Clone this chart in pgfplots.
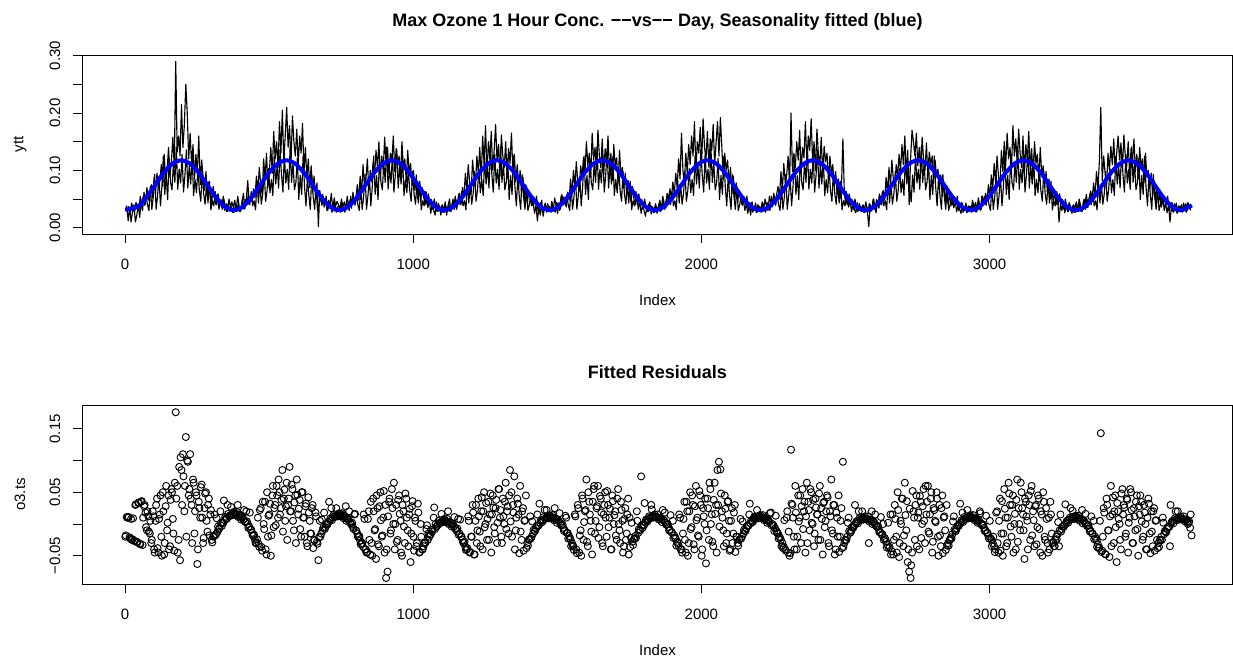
\documentclass[border=0pt]{standalone}
\usepackage{pgfplots}
\pgfplotsset{compat=1.18}
\usepackage{pgfplotstable}
\usepackage{fontspec}
\setmainfont{Liberation Sans}
\newcommand\fs{\fontsize{11.25}{13.5}\selectfont}
\newcommand\fst{\fontsize{13.5}{16}\selectfont\bfseries}
\pgfplotstableread{
t y r
1 0.030 -0.020
6 0.038 0.011
11 0.012 0.010
16 0.035 -0.021
21 0.010 0.008
26 0.028 -0.024
31 0.040 -0.026
36 0.010 0.030
41 0.022 -0.028
46 0.040 0.033
51 0.018 -0.031
56 0.045 0.035
61 0.030 -0.033
66 0.062 0.028
71 0.041 0.018
76 0.070 -0.010
81 0.048 0.012
86 0.058 -0.015
91 0.075 -0.030
96 0.052 0.020
101 0.088 -0.040
106 0.060 0.005
111 0.095 0.040
116 0.068 -0.045
121 0.082 0.015
126 0.110 -0.020
131 0.072 0.050
136 0.128 -0.048
141 0.085 0.028
146 0.098 -0.010
151 0.140 0.045
156 0.090 -0.035
161 0.115 0.055
166 0.158 0.008
171 0.105 -0.042
176 0.290 0.176
181 0.132 0.060
186 0.160 -0.025
191 0.125 -0.057
196 0.215 0.085
201 0.140 0.110
206 0.180 0.020
211 0.250 0.137
216 0.200 0.100
221 0.120 0.045
226 0.165 0.110
231 0.110 0.030
236 0.145 0.070
241 0.085 -0.015
246 0.128 0.050
251 0.095 -0.063
256 0.160 0.035
261 0.075 0.010
266 0.118 0.062
271 0.088 -0.030
276 0.065 0.025
281 0.098 0.050
286 0.052 -0.012
291 0.080 0.040
296 0.060 0.015
301 0.045 -0.025
306 0.072 -0.020
311 0.050 0.015
316 0.040 -0.016
321 0.058 -0.012
326 0.032 -0.008
331 0.048 0.020
336 0.035 -0.003
341 0.055 0.002
346 0.030 0.006
351 0.042 0.009
356 0.028 0.030
361 0.050 0.012
366 0.036 0.014
371 0.045 0.016
376 0.035 0.017
381 0.048 0.016
386 0.030 0.016
391 0.055 0.030
396 0.038 0.014
401 0.028 0.012
406 0.045 0.010
411 0.060 0.007
416 0.033 0.004
421 0.050 0.020
426 0.082 0.000
431 0.040 -0.004
436 0.056 -0.009
441 0.045 -0.014
446 0.068 -0.019
451 0.052 -0.025
456 0.090 -0.030
461 0.062 0.010
466 0.105 -0.036
471 0.075 0.025
476 0.058 -0.042
481 0.120 0.000
486 0.085 0.035
491 0.130 -0.048
496 0.070 -0.020
501 0.098 0.015
506 0.140 -0.050
511 0.095 0.045
516 0.168 -0.005
521 0.120 0.030
526 0.150 0.060
531 0.105 0.010
536 0.185 0.050
541 0.130 0.025
546 0.205 0.085
551 0.115 0.040
556 0.160 0.005
561 0.210 0.065
566 0.140 0.030
571 0.178 0.090
576 0.112 0.020
581 0.195 0.055
586 0.150 -0.010
591 0.125 0.045
596 0.172 0.070
601 0.108 0.015
606 0.160 0.038
611 0.130 -0.020
616 0.182 0.050
621 0.098 0.010
626 0.140 0.028
631 0.085 -0.030
636 0.120 0.042
641 0.070 0.005
646 0.108 -0.015
651 0.062 0.030
656 0.090 -0.025
661 0.055 0.018
666 0.078 -0.028
671 0.002 -0.057
676 0.065 0.005
681 0.045 -0.015
686 0.058 -0.010
691 0.036 0.018
696 0.050 -0.005
701 0.030 -0.001
706 0.048 0.003
711 0.040 0.006
716 0.060 0.025
721 0.032 0.010
726 0.052 0.012
731 0.038 0.013
736 0.046 0.014
741 0.040 0.015
746 0.032 0.014
751 0.050 0.015
756 0.036 0.013
761 0.045 0.011
766 0.030 0.028
771 0.055 0.008
776 0.038 0.006
781 0.048 0.003
786 0.034 -0.001
791 0.062 -0.005
796 0.042 0.015
801 0.050 -0.010
806 0.075 -0.015
811 0.048 -0.020
816 0.090 -0.026
821 0.060 -0.031
826 0.110 -0.036
831 0.070 0.008
836 0.085 -0.040
841 0.120 -0.044
846 0.065 0.020
851 0.100 -0.048
856 0.080 -0.030
861 0.115 0.040
866 0.090 -0.010
871 0.135 -0.055
876 0.105 0.025
881 0.150 -0.035
886 0.085 0.050
891 0.125 -0.020
896 0.100 0.010
901 0.158 -0.045
906 0.110 -0.085
911 0.140 -0.075
916 0.095 0.035
921 0.130 -0.015
926 0.115 0.055
931 0.160 0.000
936 0.098 -0.040
941 0.138 0.030
946 0.108 -0.025
951 0.125 0.045
956 0.088 0.005
961 0.150 -0.050
966 0.102 0.020
971 0.120 -0.030
976 0.080 0.040
981 0.135 -0.010
986 0.095 0.015
991 0.112 -0.060
996 0.075 0.028
1001 0.100 -0.020
1006 0.065 0.010
1011 0.092 -0.035
1016 0.050 0.032
1021 0.080 -0.045
1026 0.045 0.000
1031 0.070 -0.040
1036 0.055 -0.035
1041 0.040 -0.030
1046 0.062 -0.008
1051 0.035 -0.025
1056 0.048 -0.020
1061 0.025 -0.016
1066 0.042 -0.012
1071 0.030 0.010
1076 0.022 -0.008
1081 0.045 -0.004
1086 0.028 -0.001
1091 0.038 0.001
1096 0.022 0.003
1101 0.040 0.004
1106 0.030 0.005
1111 0.045 0.005
1116 0.022 0.004
1121 0.038 0.020
1126 0.050 0.003
1131 0.028 0.001
1136 0.042 -0.001
1141 0.035 -0.004
1146 0.055 -0.007
1151 0.032 -0.011
1156 0.048 0.008
1161 0.060 -0.015
1166 0.040 -0.020
1171 0.070 -0.025
1176 0.052 -0.030
1181 0.095 -0.036
1186 0.065 -0.040
1191 0.110 0.012
1196 0.078 -0.045
1201 0.060 -0.020
1206 0.118 0.030
1211 0.088 -0.048
1216 0.072 0.005
1221 0.125 -0.030
1226 0.095 0.040
1231 0.140 -0.012
1236 0.085 0.020
1241 0.160 -0.040
1246 0.110 0.050
1251 0.178 0.000
1256 0.095 -0.025
1261 0.150 0.035
1266 0.120 0.015
1271 0.168 -0.045
1276 0.100 0.045
1281 0.135 -0.005
1286 0.180 0.025
1291 0.115 -0.030
1296 0.145 0.055
1301 0.090 0.010
1306 0.162 -0.020
1311 0.125 0.040
1316 0.105 0.000
1321 0.150 0.065
1326 0.085 0.020
1331 0.138 -0.015
1336 0.112 0.085
1341 0.165 0.050
1346 0.095 0.030
1351 0.128 0.075
1356 0.080 -0.010
1361 0.110 0.040
1366 0.070 0.015
1371 0.100 0.060
1376 0.058 -0.025
1381 0.088 0.025
1386 0.048 0.005
1391 0.075 0.045
1396 0.042 -0.030
1401 0.065 -0.025
1406 0.050 0.012
1411 0.038 -0.020
1416 0.045 -0.015
1421 0.025 -0.011
1426 0.040 -0.007
1431 0.012 0.015
1436 0.035 -0.002
1441 0.022 0.002
1446 0.048 0.005
1451 0.020 0.007
1456 0.038 0.022
1461 0.030 0.010
1466 0.042 0.011
1471 0.035 0.011
1476 0.028 0.010
1481 0.046 0.011
1486 0.030 0.009
1491 0.052 0.025
1496 0.038 0.008
1501 0.025 0.006
1506 0.044 0.004
1511 0.032 0.001
1516 0.058 -0.002
1521 0.040 -0.006
1526 0.050 -0.010
1531 0.036 0.010
1536 0.062 -0.014
1541 0.048 -0.019
1546 0.085 -0.024
1551 0.058 -0.030
1556 0.100 -0.035
1561 0.070 0.015
1566 0.115 -0.040
1571 0.080 0.030
1576 0.064 -0.045
1581 0.108 -0.010
1586 0.090 0.045
1591 0.122 -0.025
1596 0.095 0.020
1601 0.150 0.070
1606 0.108 -0.035
1611 0.130 0.035
1616 0.088 0.005
1621 0.165 -0.048
1626 0.118 0.055
1631 0.140 -0.015
1636 0.100 0.025
1641 0.170 0.060
1646 0.125 -0.005
1651 0.105 0.040
1656 0.155 -0.030
1661 0.092 0.015
1666 0.138 0.050
1671 0.115 -0.020
1676 0.160 0.030
1681 0.098 0.010
1686 0.130 -0.040
1691 0.082 0.045
1696 0.145 0.000
1701 0.108 0.020
1706 0.122 -0.025
1711 0.078 0.055
1716 0.135 -0.010
1721 0.090 0.035
1726 0.105 0.005
1731 0.068 -0.035
1736 0.095 0.025
1741 0.055 -0.015
1746 0.082 0.040
1751 0.060 0.010
1756 0.045 -0.022
1761 0.072 -0.028
1766 0.050 -0.024
1771 0.040 -0.019
1776 0.058 0.020
1781 0.032 -0.014
1786 0.046 -0.010
1791 0.025 0.075
1796 0.040 -0.006
1801 0.030 -0.002
1806 0.020 0.002
1811 0.038 0.006
1816 0.028 0.008
1821 0.045 0.010
1826 0.024 0.030
1831 0.036 0.012
1836 0.030 0.012
1841 0.042 0.012
1846 0.025 0.011
1851 0.036 0.010
1856 0.048 0.009
1861 0.030 0.007
1866 0.055 0.022
1871 0.040 0.005
1876 0.034 0.002
1881 0.060 -0.001
1886 0.045 -0.005
1891 0.068 -0.009
1896 0.050 -0.013
1901 0.080 0.005
1906 0.058 -0.018
1911 0.095 -0.023
1916 0.070 -0.028
1921 0.120 -0.034
1926 0.085 0.010
1931 0.165 -0.040
1936 0.100 -0.015
1941 0.078 0.035
1946 0.130 -0.045
1951 0.095 0.020
1956 0.145 -0.030
1961 0.110 0.050
1966 0.160 -0.005
1971 0.125 0.030
1976 0.185 -0.040
1981 0.100 0.060
1986 0.150 0.010
1991 0.130 -0.020
1996 0.175 0.045
2001 0.115 -0.050
2006 0.190 0.025
2011 0.140 0.000
2016 0.120 -0.062
2021 0.168 0.040
2026 0.105 -0.025
2031 0.155 0.055
2036 0.135 0.015
2041 0.180 -0.035
2046 0.110 0.065
2051 0.148 0.030
2056 0.185 0.085
2061 0.125 0.098
2066 0.192 0.086
2071 0.140 0.020
2076 0.085 -0.010
2081 0.130 0.045
2086 0.100 -0.030
2091 0.118 0.035
2096 0.075 0.005
2101 0.105 -0.040
2106 0.060 0.025
2111 0.090 -0.015
2116 0.052 0.030
2121 0.078 -0.020
2126 0.045 -0.030
2131 0.065 -0.025
2136 0.050 0.008
2141 0.040 -0.020
2146 0.048 -0.015
2151 0.030 -0.011
2156 0.042 -0.007
2161 0.025 -0.003
2166 0.038 0.015
2171 0.022 0.001
2176 0.045 0.005
2181 0.030 0.008
2186 0.036 0.010
2191 0.026 0.011
2196 0.040 0.012
2201 0.035 0.012
2206 0.028 0.012
2211 0.045 0.011
2216 0.032 0.010
2221 0.050 0.009
2226 0.038 0.007
2231 0.030 0.005
2236 0.055 0.003
2241 0.042 0.018
2246 0.036 0.000
2251 0.060 -0.003
2256 0.046 -0.007
2261 0.058 -0.011
2266 0.072 -0.015
2271 0.050 -0.020
2276 0.098 -0.025
2281 0.065 -0.030
2286 0.112 -0.036
2291 0.080 -0.040
2296 0.092 0.010
2301 0.125 -0.045
2306 0.075 -0.050
2311 0.200 0.117
2316 0.098 0.030
2321 0.130 -0.020
2326 0.105 0.060
2331 0.150 -0.040
2336 0.118 0.045
2341 0.170 0.010
2346 0.095 -0.030
2351 0.140 0.055
2356 0.122 0.020
2361 0.185 -0.045
2366 0.110 0.065
2371 0.160 0.035
2376 0.135 -0.010
2381 0.190 0.050
2386 0.115 0.000
2391 0.150 -0.035
2396 0.100 0.040
2401 0.172 0.015
2406 0.128 -0.025
2411 0.108 0.060
2416 0.158 0.025
2421 0.090 -0.048
2426 0.142 0.035
2431 0.115 0.005
2436 0.130 0.045
2441 0.080 -0.030
2446 0.125 0.020
2451 0.095 0.070
2456 0.110 -0.015
2461 0.072 0.030
2466 0.098 -0.040
2471 0.058 0.010
2476 0.085 0.045
2481 0.050 -0.020
2486 0.070 0.025
2491 0.155 0.098
2496 0.062 -0.030
2501 0.040 -0.025
2506 0.052 -0.020
2511 0.036 0.010
2516 0.048 -0.014
2521 0.028 -0.010
2526 0.042 -0.006
2531 0.032 -0.002
2536 0.026 0.001
2541 0.044 0.004
2546 0.030 0.020
2551 0.038 0.007
2556 0.028 0.008
2561 0.040 0.009
2566 0.032 0.009
2571 0.045 0.009
2576 0.028 0.008
2581 0.002 -0.030
2586 0.040 0.006
2591 0.030 0.020
2596 0.050 0.003
2601 0.036 0.001
2606 0.026 -0.002
2611 0.046 -0.005
2616 0.034 -0.009
2621 0.055 -0.013
2626 0.040 -0.017
2631 0.065 0.000
2636 0.048 -0.022
2641 0.088 -0.028
2646 0.060 -0.033
2651 0.105 -0.038
2656 0.072 0.015
2661 0.118 -0.043
2666 0.085 -0.048
2671 0.068 0.030
2676 0.110 -0.020
2681 0.090 0.050
2686 0.128 -0.052
2691 0.098 0.005
2696 0.145 0.040
2701 0.110 -0.035
2706 0.160 0.065
2711 0.090 -0.010
2716 0.135 -0.060
2721 0.040 -0.075
2726 0.120 -0.085
2731 0.170 -0.045
2736 0.150 0.020
2741 0.125 -0.025
2746 0.165 0.045
2751 0.108 0.010
2756 0.140 -0.040
2761 0.095 0.035
2766 0.158 0.000
2771 0.120 0.055
2776 0.100 -0.030
2781 0.148 0.015
2786 0.085 0.060
2791 0.132 -0.015
2796 0.110 0.040
2801 0.125 -0.045
2806 0.078 0.025
2811 0.118 0.005
2816 0.090 0.050
2821 0.102 -0.020
2826 0.068 0.030
2831 0.092 -0.035
2836 0.055 0.045
2841 0.080 0.010
2846 0.048 -0.010
2851 0.065 0.030
2856 0.042 -0.030
2861 0.058 -0.026
2866 0.038 -0.021
2871 0.050 -0.016
2876 0.035 0.012
2881 0.045 -0.011
2886 0.028 -0.007
2891 0.040 -0.003
2896 0.032 0.000
2901 0.025 0.003
2906 0.042 0.018
2911 0.030 0.006
2916 0.036 0.008
2921 0.026 0.010
2926 0.038 0.011
2931 0.036 0.011
2936 0.030 0.011
2941 0.048 0.010
2946 0.034 0.009
2951 0.044 0.008
2956 0.028 0.006
2961 0.052 0.004
2966 0.038 0.020
2971 0.032 0.001
2976 0.055 -0.002
2981 0.042 -0.006
2986 0.060 -0.010
2991 0.046 -0.014
2996 0.075 -0.019
3001 0.052 0.005
3006 0.092 -0.024
3011 0.068 -0.030
3016 0.112 -0.035
3021 0.078 -0.040
3026 0.125 0.020
3031 0.090 -0.045
3036 0.070 0.040
3041 0.135 -0.015
3046 0.098 -0.050
3051 0.150 0.055
3056 0.108 0.010
3061 0.165 -0.030
3066 0.120 0.065
3071 0.140 0.030
3076 0.100 -0.020
3081 0.178 0.045
3086 0.125 0.000
3091 0.155 -0.040
3096 0.112 0.070
3101 0.172 0.025
3106 0.130 -0.010
3111 0.105 0.050
3116 0.160 0.015
3121 0.095 -0.055
3126 0.145 0.035
3131 0.118 0.005
3136 0.168 0.045
3141 0.102 -0.025
3146 0.138 0.060
3151 0.088 0.020
3156 0.150 -0.035
3161 0.112 0.030
3166 0.128 -0.005
3171 0.082 0.040
3176 0.140 -0.045
3181 0.092 0.015
3186 0.108 0.050
3191 0.070 -0.020
3196 0.098 0.025
3201 0.058 -0.030
3206 0.085 0.010
3211 0.050 0.035
3216 0.072 -0.015
3221 0.045 -0.028
3226 0.062 -0.035
3231 0.040 -0.020
3236 0.055 -0.016
3241 0.010 -0.035
3246 0.042 0.015
3251 0.030 -0.008
3256 0.046 -0.004
3261 0.026 -0.001
3266 0.038 0.002
3271 0.028 0.005
3276 0.044 0.007
3281 0.032 0.025
3286 0.025 0.010
3291 0.040 0.011
3296 0.034 0.011
3301 0.045 0.011
3306 0.030 0.010
3311 0.050 0.009
3316 0.038 0.008
3321 0.028 0.022
3326 0.046 0.005
3331 0.040 0.002
3336 0.058 0.000
3341 0.035 -0.003
3346 0.052 -0.007
3351 0.064 -0.011
3356 0.048 -0.015
3361 0.078 0.005
3366 0.055 -0.020
3371 0.098 -0.026
3376 0.068 -0.032
3381 0.115 -0.037
3386 0.210 0.143
3391 0.082 -0.042
3396 0.125 0.025
3401 0.095 -0.047
3406 0.072 0.040
3411 0.130 -0.010
3416 0.100 -0.052
3421 0.142 0.060
3426 0.110 0.015
3431 0.155 -0.030
3436 0.095 0.045
3441 0.130 -0.060
3446 0.160 0.020
3451 0.118 0.000
3456 0.148 -0.040
3461 0.100 0.055
3466 0.162 0.030
3471 0.125 -0.020
3476 0.108 0.040
3481 0.150 -0.045
3486 0.092 0.010
3491 0.138 0.050
3496 0.115 -0.030
3501 0.155 0.025
3506 0.098 -0.010
3511 0.128 0.045
3516 0.085 -0.050
3521 0.140 0.015
3526 0.105 0.035
3531 0.120 -0.025
3536 0.078 0.030
3541 0.130 0.000
3546 0.088 -0.040
3551 0.100 0.040
3556 0.068 -0.015
3561 0.095 0.020
3566 0.055 -0.035
3571 0.082 0.025
3576 0.048 0.005
3581 0.070 -0.025
3586 0.042 -0.030
3591 0.060 -0.025
3596 0.036 -0.020
3601 0.052 0.010
3606 0.030 -0.016
3611 0.044 -0.012
3616 0.026 -0.008
3621 0.040 -0.004
3626 0.010 -0.035
3631 0.036 0.002
3636 0.028 0.005
3641 0.042 0.006
3646 0.032 0.020
3651 0.025 0.008
3656 0.038 0.009
3661 0.032 0.009
3666 0.040 0.009
3671 0.028 0.008
3676 0.036 0.007
3681 0.042 0.006
3686 0.030 0.004
3691 0.038 0.002
3696 0.034 -0.006
3701 0.036 -0.018
}\oz
\pgfplotstableread{
t y r
3 0.032 -0.018
8 0.028 0.010
13 0.037 0.011
18 0.027 -0.023
23 0.043 -0.025
28 0.032 0.009
33 0.027 -0.027
38 0.044 0.031
43 0.039 -0.029
48 0.030 0.034
53 0.055 -0.032
58 0.041 0.036
63 0.054 0.010
68 0.039 0.030
73 0.057 -0.005
78 0.040 0.020
83 0.030 -0.012
88 0.072 0.005
93 0.032 -0.025
98 0.054 0.012
103 0.093 -0.045
108 0.032 0.030
113 0.056 -0.038
118 0.089 0.008
123 0.038 0.045
128 0.071 -0.050
133 0.125 0.020
138 0.058 -0.030
143 0.091 0.060
148 0.049 0.002
153 0.121 -0.040
158 0.079 0.038
163 0.066 0.050
168 0.113 -0.015
173 0.079 0.065
178 0.141 0.040
183 0.067 -0.045
188 0.102 0.090
193 0.078 0.105
198 0.128 0.030
203 0.062 0.075
208 0.092 0.060
213 0.136 -0.020
218 0.069 0.098
223 0.108 0.055
228 0.076 0.040
233 0.124 -0.030
238 0.056 0.065
243 0.084 0.020
248 0.061 0.045
253 0.103 -0.040
258 0.065 0.025
263 0.046 0.058
268 0.098 0.010
273 0.059 -0.022
278 0.041 0.048
283 0.077 0.005
288 0.043 0.030
293 0.081 -0.018
298 0.031 0.022
303 0.047 -0.029
308 0.038 -0.019
313 0.063 -0.018
318 0.040 0.009
323 0.059 -0.004
328 0.041 -0.006
333 0.049 0.002
338 0.032 0.002
343 0.050 0.037
348 0.036 0.011
353 0.028 0.008
358 0.042 0.016
363 0.029 0.013
368 0.038 0.027
373 0.027 0.014
378 0.027 0.019
383 0.038 0.014
388 0.029 0.019
393 0.042 0.011
398 0.028 0.014
403 0.036 0.007
408 0.050 0.011
413 0.032 0.022
418 0.049 0.003
423 0.041 0.004
428 0.059 -0.006
433 0.040 0.018
438 0.063 -0.009
443 0.038 -0.018
448 0.047 -0.017
453 0.031 -0.030
458 0.081 -0.024
463 0.043 -0.031
468 0.077 0.022
473 0.041 -0.036
478 0.059 0.035
483 0.098 -0.008
488 0.046 -0.040
493 0.065 0.050
498 0.103 0.013
503 0.061 0.032
508 0.084 -0.018
513 0.056 0.060
518 0.124 0.025
523 0.076 -0.002
528 0.108 0.045
533 0.069 0.070
538 0.136 0.015
543 0.092 0.038
548 0.062 -0.012
553 0.128 0.054
558 0.078 0.028
563 0.102 -0.025
568 0.067 0.040
573 0.141 0.020
578 0.079 0.062
583 0.113 0.005
588 0.066 0.034
593 0.079 -0.030
598 0.121 0.046
603 0.049 0.024
608 0.091 -0.008
613 0.058 0.050
618 0.125 0.010
623 0.071 -0.020
628 0.038 0.032
633 0.089 -0.035
638 0.056 0.018
643 0.032 -0.015
648 0.093 0.025
653 0.054 -0.038
658 0.032 -0.026
663 0.072 0.012
668 0.030 -0.031
673 0.040 -0.021
678 0.057 -0.020
683 0.039 0.007
688 0.054 -0.006
693 0.041 -0.008
698 0.055 0.000
703 0.030 0.000
708 0.039 0.035
713 0.044 0.009
718 0.027 0.006
723 0.032 0.014
728 0.043 0.011
733 0.027 0.025
738 0.037 0.012
743 0.037 0.017
748 0.027 0.012
753 0.043 0.017
758 0.032 0.009
763 0.027 0.012
768 0.044 0.005
773 0.039 0.009
778 0.030 0.020
783 0.055 0.001
788 0.041 0.002
793 0.054 -0.008
798 0.039 0.016
803 0.057 -0.011
808 0.040 -0.020
813 0.030 -0.019
818 0.072 -0.032
823 0.032 -0.030
828 0.054 0.015
833 0.093 -0.040
838 0.032 -0.045
843 0.056 0.008
848 0.089 -0.025
853 0.038 0.035
858 0.071 -0.050
863 0.125 0.020
868 0.058 -0.008
873 0.091 0.045
878 0.049 -0.032
883 0.121 0.028
888 0.079 0.006
893 0.066 -0.018
898 0.113 0.052
903 0.079 0.030
908 0.141 -0.040
913 0.067 0.012
918 0.102 0.040
923 0.078 -0.010
928 0.128 0.025
933 0.062 0.065
938 0.092 0.000
943 0.136 -0.028
948 0.069 0.038
953 0.108 0.016
958 0.076 -0.045
963 0.124 0.030
968 0.056 -0.004
973 0.084 0.048
978 0.061 0.010
983 0.103 -0.035
988 0.065 0.024
993 0.046 -0.015
998 0.098 0.036
1003 0.059 -0.042
1008 0.041 0.005
1013 0.077 -0.030
1018 0.043 0.018
1023 0.081 -0.044
1028 0.031 -0.020
1033 0.047 -0.040
1038 0.038 -0.030
1043 0.063 -0.029
1048 0.040 -0.002
1053 0.059 -0.015
1058 0.041 -0.017
1063 0.049 -0.009
1068 0.032 -0.009
1073 0.050 0.026
1078 0.036 0.000
1083 0.028 -0.003
1088 0.042 0.005
1093 0.029 0.002
1098 0.038 0.016
1103 0.027 0.003
1108 0.027 0.008
1113 0.038 0.003
1118 0.029 0.008
1123 0.042 0.000
1128 0.028 0.003
1133 0.036 -0.004
1138 0.050 0.000
1143 0.032 0.011
1148 0.049 -0.008
1153 0.041 -0.007
1158 0.059 -0.017
1163 0.040 0.007
1168 0.063 -0.020
1173 0.038 -0.029
1178 0.047 -0.028
1183 0.031 -0.041
1188 0.081 -0.038
1193 0.043 0.005
1198 0.077 -0.044
1203 0.041 -0.020
1208 0.059 0.018
1213 0.098 -0.048
1218 0.046 0.030
1223 0.065 -0.010
1228 0.103 0.012
1233 0.061 -0.035
1238 0.084 0.042
1243 0.056 0.020
1248 0.124 -0.005
1253 0.076 0.033
1258 0.108 0.008
1263 0.069 -0.025
1268 0.136 0.048
1273 0.092 0.015
1278 0.062 0.026
1283 0.128 -0.015
1288 0.078 0.038
1293 0.102 0.002
1298 0.067 0.055
1303 0.141 0.022
1308 0.079 -0.030
1313 0.113 0.012
1318 0.066 0.035
1323 0.079 -0.008
1328 0.121 0.028
1333 0.049 0.045
1338 0.091 0.004
1343 0.058 -0.020
1348 0.125 0.018
1353 0.071 -0.040
1358 0.038 0.010
1363 0.089 0.032
1368 0.056 -0.046
1373 0.032 -0.012
1378 0.093 0.020
1383 0.054 -0.042
1388 0.032 0.006
1393 0.072 -0.038
1398 0.030 -0.034
1403 0.040 -0.024
1408 0.057 -0.023
1413 0.039 0.004
1418 0.054 -0.009
1423 0.041 -0.011
1428 0.055 -0.003
1433 0.030 -0.003
1438 0.039 0.032
1443 0.044 0.006
1448 0.027 0.003
1453 0.032 0.011
1458 0.043 0.008
1463 0.027 0.022
1468 0.037 0.009
1473 0.037 0.014
1478 0.027 0.009
1483 0.043 0.014
1488 0.032 0.006
1493 0.027 0.009
1498 0.044 0.002
1503 0.039 0.006
1508 0.030 0.017
1513 0.055 -0.002
1518 0.041 -0.001
1523 0.054 -0.011
1528 0.039 0.013
1533 0.057 -0.014
1538 0.040 -0.023
1543 0.030 -0.022
1548 0.072 -0.035
1553 0.032 -0.034
1558 0.054 -0.041
1563 0.093 0.012
1568 0.032 -0.046
1573 0.056 0.025
1578 0.089 -0.018
1583 0.038 -0.050
1588 0.071 0.040
1593 0.125 0.003
1598 0.058 0.022
1603 0.091 -0.028
1608 0.049 0.050
1613 0.121 0.015
1618 0.079 -0.012
1623 0.066 0.035
1628 0.113 0.060
1633 0.079 0.005
1638 0.141 0.028
1643 0.067 -0.022
1648 0.102 0.044
1653 0.078 0.018
1658 0.128 -0.035
1663 0.062 0.030
1668 0.092 0.010
1673 0.136 0.052
1678 0.069 -0.005
1683 0.108 0.024
1688 0.076 -0.040
1693 0.124 0.036
1698 0.056 0.014
1703 0.084 -0.018
1708 0.061 0.040
1713 0.103 0.000
1718 0.065 -0.030
1723 0.046 0.022
1728 0.098 -0.045
1733 0.059 0.008
1738 0.041 -0.025
1743 0.077 0.015
1748 0.043 -0.048
1753 0.081 -0.036
1758 0.031 0.002
1763 0.047 -0.033
1768 0.038 -0.023
1773 0.063 -0.022
1778 0.040 0.005
1783 0.059 -0.008
1788 0.041 -0.010
1793 0.049 -0.002
1798 0.032 -0.002
1803 0.050 0.033
1808 0.036 0.007
1813 0.028 0.004
1818 0.042 0.012
1823 0.029 0.009
1828 0.038 0.023
1833 0.027 0.010
1838 0.027 0.015
1843 0.038 0.010
1848 0.029 0.015
1853 0.042 0.007
1858 0.028 0.010
1863 0.036 0.003
1868 0.050 0.007
1873 0.032 0.018
1878 0.049 -0.001
1883 0.041 0.000
1888 0.059 -0.010
1893 0.040 0.014
1898 0.063 -0.013
1903 0.038 -0.022
1908 0.047 -0.021
1913 0.031 -0.034
1918 0.081 -0.030
1923 0.043 0.015
1928 0.077 -0.040
1933 0.041 -0.045
1938 0.059 0.008
1943 0.098 -0.025
1948 0.046 0.035
1953 0.065 -0.050
1958 0.103 0.020
1963 0.061 -0.008
1968 0.084 0.045
1973 0.056 -0.032
1978 0.124 0.028
1983 0.076 0.006
1988 0.108 -0.018
1993 0.069 0.052
1998 0.136 0.030
2003 0.092 -0.040
2008 0.062 0.012
2013 0.128 0.040
2018 0.078 -0.010
2023 0.102 0.025
2028 0.067 0.065
2033 0.141 0.000
2038 0.079 -0.028
2043 0.113 0.038
2048 0.066 0.016
2053 0.079 -0.045
2058 0.121 0.030
2063 0.049 -0.004
2068 0.091 0.048
2073 0.058 0.010
2078 0.125 -0.035
2083 0.071 0.024
2088 0.038 -0.015
2093 0.089 0.036
2098 0.056 -0.042
2103 0.032 0.005
2108 0.093 -0.030
2113 0.054 0.018
2118 0.032 -0.044
2123 0.072 -0.020
2128 0.030 -0.034
2133 0.040 -0.024
2138 0.057 -0.023
2143 0.039 0.004
2148 0.054 -0.009
2153 0.041 -0.011
2158 0.055 -0.003
2163 0.030 -0.003
2168 0.039 0.032
2173 0.044 0.006
2178 0.027 0.003
2183 0.032 0.011
2188 0.043 0.008
2193 0.027 0.022
2198 0.037 0.009
2203 0.037 0.014
2208 0.027 0.009
2213 0.043 0.014
2218 0.032 0.006
2223 0.027 0.009
2228 0.044 0.002
2233 0.039 0.006
2238 0.030 0.017
2243 0.055 -0.002
2248 0.041 -0.001
2253 0.054 -0.011
2258 0.039 0.013
2263 0.057 -0.014
2268 0.040 -0.023
2273 0.030 -0.022
2278 0.072 -0.035
2283 0.032 -0.038
2288 0.054 0.006
2293 0.093 -0.042
2298 0.032 0.020
2303 0.056 -0.012
2308 0.089 -0.046
2313 0.038 0.032
2318 0.071 0.010
2323 0.125 -0.040
2328 0.058 0.018
2333 0.091 -0.020
2338 0.049 0.004
2343 0.121 0.045
2348 0.079 0.028
2353 0.066 -0.008
2358 0.113 0.035
2363 0.079 0.012
2368 0.141 -0.030
2373 0.067 0.022
2378 0.102 0.055
2383 0.078 0.002
2388 0.128 0.038
2393 0.062 -0.015
2398 0.092 0.026
2403 0.136 0.015
2408 0.069 0.048
2413 0.108 -0.025
2418 0.076 0.008
2423 0.124 0.033
2428 0.056 -0.005
2433 0.084 0.020
2438 0.061 0.042
2443 0.103 -0.035
2448 0.065 0.012
2453 0.046 -0.010
2458 0.098 0.030
2463 0.059 -0.048
2468 0.041 0.018
2473 0.077 -0.020
2478 0.043 -0.044
2483 0.081 0.005
2488 0.031 -0.038
2493 0.047 -0.036
2498 0.038 -0.026
2503 0.063 -0.025
2508 0.040 0.002
2513 0.059 -0.011
2518 0.041 -0.013
2523 0.049 -0.005
2528 0.032 -0.005
2533 0.050 0.030
2538 0.036 0.004
2543 0.028 0.001
2548 0.042 0.009
2553 0.029 0.006
2558 0.038 0.020
2563 0.027 0.007
2568 0.027 0.012
2573 0.038 0.007
2578 0.029 0.012
2583 0.042 0.004
2588 0.028 0.007
2593 0.036 0.000
2598 0.050 0.004
2603 0.032 0.015
2608 0.049 -0.004
2613 0.041 -0.003
2618 0.059 -0.013
2623 0.040 0.011
2628 0.063 -0.016
2633 0.038 -0.025
2638 0.047 -0.024
2643 0.031 -0.037
2648 0.081 0.002
2653 0.043 -0.036
2658 0.077 -0.048
2663 0.041 0.015
2668 0.059 -0.025
2673 0.098 0.008
2678 0.046 -0.045
2683 0.065 0.022
2688 0.103 -0.030
2693 0.061 0.000
2698 0.084 0.040
2703 0.056 -0.018
2708 0.124 0.014
2713 0.076 0.036
2718 0.108 -0.040
2723 0.069 0.024
2728 0.045 -0.065
2733 0.092 0.052
2738 0.062 0.010
2743 0.128 0.030
2748 0.078 -0.035
2753 0.102 0.018
2758 0.067 0.044
2763 0.141 -0.022
2768 0.079 0.028
2773 0.113 0.005
2778 0.066 0.060
2783 0.079 0.035
2788 0.121 -0.012
2793 0.049 0.015
2798 0.091 0.050
2803 0.058 -0.028
2808 0.125 0.022
2813 0.071 0.003
2818 0.038 0.040
2823 0.089 -0.050
2828 0.056 -0.018
2833 0.032 0.025
2838 0.093 -0.046
2843 0.054 0.012
2848 0.032 -0.041
2853 0.072 -0.034
2858 0.030 -0.034
2863 0.040 -0.024
2868 0.057 -0.023
2873 0.039 0.004
2878 0.054 -0.009
2883 0.041 -0.011
2888 0.055 -0.003
2893 0.030 -0.003
2898 0.039 0.032
2903 0.044 0.006
2908 0.027 0.003
2913 0.032 0.011
2918 0.043 0.008
2923 0.027 0.022
2928 0.037 0.009
2933 0.037 0.014
2938 0.027 0.009
2943 0.043 0.014
2948 0.032 0.006
2953 0.027 0.009
2958 0.044 0.002
2963 0.039 0.006
2968 0.030 0.017
2973 0.055 -0.002
2978 0.041 -0.001
2983 0.054 -0.011
2988 0.039 0.013
2993 0.057 -0.014
2998 0.040 -0.023
3003 0.030 -0.022
3008 0.072 -0.035
3013 0.032 -0.020
3018 0.054 -0.044
3023 0.093 0.018
3028 0.032 -0.030
3033 0.056 0.005
3038 0.089 -0.042
3043 0.038 0.036
3048 0.071 -0.015
3053 0.125 0.024
3058 0.058 -0.035
3063 0.091 0.010
3068 0.049 0.048
3073 0.121 -0.004
3078 0.079 0.030
3083 0.066 -0.045
3088 0.113 0.016
3093 0.079 0.038
3098 0.141 -0.028
3103 0.067 0.000
3108 0.102 0.065
3113 0.078 0.025
3118 0.128 -0.010
3123 0.062 0.040
3128 0.092 0.012
3133 0.136 -0.040
3138 0.069 0.030
3143 0.108 0.052
3148 0.076 -0.018
3153 0.124 0.006
3158 0.056 0.028
3163 0.084 -0.032
3168 0.061 0.045
3173 0.103 -0.008
3178 0.065 0.020
3183 0.046 -0.050
3188 0.098 0.035
3193 0.059 -0.025
3198 0.041 0.008
3203 0.077 -0.045
3208 0.043 -0.040
3213 0.081 0.015
3218 0.031 -0.030
3223 0.047 -0.035
3228 0.038 -0.025
3233 0.063 -0.024
3238 0.040 0.003
3243 0.059 -0.010
3248 0.041 -0.012
3253 0.049 -0.004
3258 0.032 -0.004
3263 0.050 0.031
3268 0.036 0.005
3273 0.028 0.002
3278 0.042 0.010
3283 0.029 0.007
3288 0.038 0.021
3293 0.027 0.008
3298 0.027 0.013
3303 0.038 0.008
3308 0.029 0.013
3313 0.042 0.005
3318 0.028 0.008
3323 0.036 0.001
3328 0.050 0.005
3333 0.032 0.016
3338 0.049 -0.003
3343 0.041 -0.002
3348 0.059 -0.012
3353 0.040 0.012
3358 0.063 -0.015
3363 0.038 -0.024
3368 0.047 -0.023
3373 0.031 -0.036
3378 0.081 -0.038
3383 0.043 0.005
3388 0.077 -0.044
3393 0.041 -0.020
3398 0.059 0.018
3403 0.098 -0.048
3408 0.046 0.030
3413 0.065 -0.010
3418 0.103 0.012
3423 0.061 -0.035
3428 0.084 0.042
3433 0.056 0.020
3438 0.124 -0.005
3443 0.076 0.033
3448 0.108 0.008
3453 0.069 -0.025
3458 0.136 0.048
3463 0.092 0.015
3468 0.062 0.026
3473 0.128 -0.015
3478 0.078 0.038
3483 0.102 0.002
3488 0.067 0.055
3493 0.141 0.022
3498 0.079 -0.030
3503 0.113 0.012
3508 0.066 0.035
3513 0.079 -0.008
3518 0.121 0.028
3523 0.049 0.045
3528 0.091 0.004
3533 0.058 -0.020
3538 0.125 0.018
3543 0.071 -0.040
3548 0.038 0.010
3553 0.089 0.032
3558 0.056 -0.046
3563 0.032 -0.012
3568 0.093 0.020
3573 0.054 -0.042
3578 0.032 0.006
3583 0.072 -0.038
3588 0.030 -0.036
3593 0.040 -0.026
3598 0.057 -0.025
3603 0.039 0.002
3608 0.054 -0.011
3613 0.041 -0.013
3618 0.055 -0.005
3623 0.030 -0.005
3628 0.039 0.030
3633 0.044 0.004
3638 0.027 0.001
3643 0.032 0.009
3648 0.043 0.006
3653 0.027 0.020
3658 0.037 0.007
3663 0.037 0.012
3668 0.027 0.007
3673 0.043 0.012
3678 0.032 0.004
3683 0.027 0.007
3688 0.044 0.000
3693 0.039 0.004
3698 0.030 0.015
}\ozb
\pgfplotsset{
  rbox/.style={
    scale only axis, width=862.5pt, height=134.25pt, anchor=north west,
    xmin=-147.5, xmax=3843,
    axis line style={line width=0.6pt},
    tick align=outside, tick pos=left, major tick length=6.75pt,
    every tick/.style={black, line width=0.6pt},
    xtick={0,1000,2000,3000}, xticklabels={0,1000,2000,3000},
    xticklabel style={font=\fs, inner sep=0pt, anchor=north},
    xticklabel shift=11.5pt,
    yticklabel style={font=\fs, rotate=90, inner sep=0pt, anchor=south},
    yticklabel shift=9.75pt,
    xlabel={Index},
    xlabel style={at={(axis description cs:0.5,-0.3687)}, anchor=center, font=\fs},
    ylabel style={at={(axis description cs:-0.05435,0.5)}, anchor=center, font=\fs},
    every axis title shift=0pt,
    title style={at={(axis description cs:0.5,1.1844)}, anchor=center, font=\fst},
    /pgf/number format/assume math mode=true,
  }
}
\begin{document}
\begin{tikzpicture}
\path[use as bounding box] (0pt,0pt) rectangle (924.75pt,-496.5pt);
\begin{axis}[rbox, at={(61.875pt,-41.25pt)},
  ymin=-0.011, ymax=0.3012,
  ytick={0,0.05,0.1,0.15,0.2,0.25,0.3},
  yticklabels={0.00,,0.10,,0.20,,0.30},
  ylabel={ytt},
  title={Max Ozone 1 Hour Conc. −−vs−− Day, Seasonality fitted (blue)}]
\addplot[black, line width=0.85pt, line join=round] table[x=t, y=y] {\oz};
\addplot[black, line width=0.85pt, line join=round] table[x=t, y=y] {\ozb};
\addplot[color={rgb,255:red,0;green,0;blue,255}, line width=3pt, smooth] coordinates {
(1,0.0313) (42.8,0.0363) (73.3,0.0523) (103.7,0.0740) (134.1,0.0958) (164.6,0.1117) (195.0,0.1175) (225.4,0.1117) (255.9,0.0958) (286.3,0.0740) (316.8,0.0523) (347.2,0.0363)
(377.6,0.0305) (408.1,0.0363) (438.5,0.0523) (468.9,0.0740) (499.4,0.0958) (529.8,0.1117) (560.3,0.1175) (590.7,0.1117) (621.1,0.0958) (651.6,0.0740) (682.0,0.0523) (712.4,0.0363)
(742.9,0.0305) (773.3,0.0363) (803.7,0.0523) (834.2,0.0740) (864.6,0.0958) (895.1,0.1117) (925.5,0.1175) (955.9,0.1117) (986.4,0.0958) (1016.8,0.0740) (1047.3,0.0523) (1077.7,0.0363)
(1108.1,0.0305) (1138.6,0.0363) (1169.0,0.0523) (1199.4,0.0740) (1229.9,0.0958) (1260.3,0.1117) (1290.8,0.1175) (1321.2,0.1117) (1351.6,0.0958) (1382.1,0.0740) (1412.5,0.0523) (1443.0,0.0363)
(1473.4,0.0305) (1503.8,0.0363) (1534.3,0.0523) (1564.7,0.0740) (1595.1,0.0958) (1625.6,0.1117) (1656.0,0.1175) (1686.5,0.1117) (1716.9,0.0958) (1747.3,0.0740) (1777.8,0.0523) (1808.2,0.0363)
(1838.6,0.0305) (1869.1,0.0363) (1899.5,0.0523) (1930.0,0.0740) (1960.4,0.0958) (1990.8,0.1117) (2021.3,0.1175) (2051.7,0.1117) (2082.1,0.0958) (2112.6,0.0740) (2143.0,0.0523) (2173.5,0.0363)
(2203.9,0.0305) (2234.3,0.0363) (2264.8,0.0523) (2295.2,0.0740) (2325.6,0.0958) (2356.1,0.1117) (2386.5,0.1175) (2417.0,0.1117) (2447.4,0.0958) (2477.8,0.0740) (2508.3,0.0523) (2538.7,0.0363)
(2569.1,0.0305) (2599.6,0.0363) (2630.0,0.0523) (2660.5,0.0740) (2690.9,0.0958) (2721.3,0.1117) (2751.8,0.1175) (2782.2,0.1117) (2812.6,0.0958) (2843.1,0.0740) (2873.5,0.0523) (2904.0,0.0363)
(2934.4,0.0305) (2964.8,0.0363) (2995.3,0.0523) (3025.7,0.0740) (3056.1,0.0958) (3086.6,0.1117) (3117.0,0.1175) (3147.5,0.1117) (3177.9,0.0958) (3208.3,0.0740) (3238.8,0.0523) (3269.2,0.0363)
(3299.6,0.0305) (3330.1,0.0363) (3360.5,0.0523) (3391.0,0.0740) (3421.4,0.0958) (3451.8,0.1117) (3482.3,0.1175) (3512.7,0.1117) (3543.1,0.0958) (3573.6,0.0740) (3604.0,0.0523) (3634.5,0.0363)
(3664.9,0.0305) (3702,0.0391)};
\end{axis}
\begin{axis}[rbox, at={(61.875pt,-303.75pt)},
  ymin=-0.0945, ymax=0.1874,
  ytick={-0.05,0,0.05,0.1,0.15},
  yticklabels={−0.05,,0.05,,0.15},
  ylabel={o3.ts},
  title={Fitted Residuals}]
\addplot[only marks, mark=o, mark size=2.65pt, mark options={black, line width=0.7pt}] table[x=t, y=r] {\oz};
\addplot[only marks, mark=o, mark size=2.65pt, mark options={black, line width=0.7pt}] table[x=t, y=r] {\ozb};
\end{axis}
\end{tikzpicture}
\end{document}
